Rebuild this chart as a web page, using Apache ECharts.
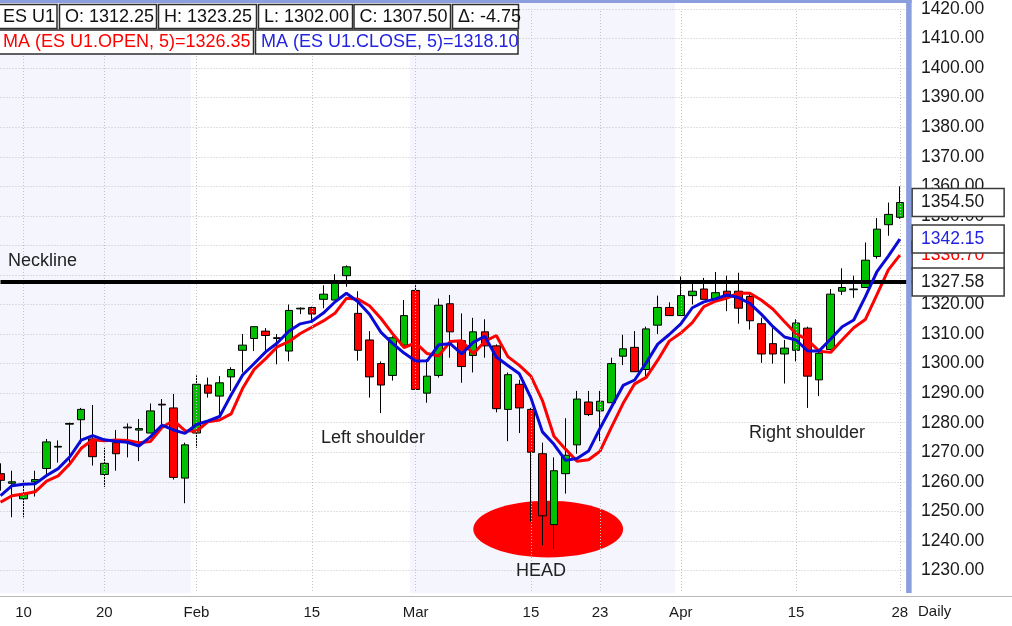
<!DOCTYPE html>
<html><head><meta charset="utf-8">
<script src="https://cdn.jsdelivr.net/npm/echarts@6/dist/echarts.min.js"></script>
<style>html,body{margin:0;padding:0;background:#fff}#c{width:1012px;height:626px}</style>
</head><body><div id="c"></div>
<script>
// ---------- data ----------
const categories = ['2011-01-06','2011-01-07','2011-01-10','2011-01-11','2011-01-12','2011-01-13','2011-01-14','2011-01-18','2011-01-19','2011-01-20',
'2011-01-21','2011-01-24','2011-01-25','2011-01-26','2011-01-27','2011-01-28','2011-01-31','2011-02-01','2011-02-02','2011-02-03',
'2011-02-04','2011-02-07','2011-02-08','2011-02-09','2011-02-10','2011-02-11','2011-02-14','2011-02-15','2011-02-16','2011-02-17',
'2011-02-18','2011-02-22','2011-02-23','2011-02-24','2011-02-25','2011-02-28','2011-03-01','2011-03-02','2011-03-03','2011-03-04',
'2011-03-07','2011-03-08','2011-03-09','2011-03-10','2011-03-11','2011-03-14','2011-03-15','2011-03-16','2011-03-17','2011-03-18',
'2011-03-21','2011-03-22','2011-03-23','2011-03-24','2011-03-25','2011-03-28','2011-03-29','2011-03-30','2011-03-31','2011-04-01',
'2011-04-04','2011-04-05','2011-04-06','2011-04-07','2011-04-08','2011-04-11','2011-04-12','2011-04-13','2011-04-14','2011-04-15',
'2011-04-18','2011-04-19','2011-04-20','2011-04-21','2011-04-22','2011-04-25','2011-04-26','2011-04-27','2011-04-28'];

const opens = [1262.75,1259.5,1254.25,1260.0,1264.5,1271.75,1279.5,1281.0,1274.5,1262.5,
1273.25,1278.5,1277.5,1276.5,1286.25,1285.0,1261.25,1276.5,1292.75,1289.0,
1295.5,1304.5,1308.5,1311.0,1308.75,1304.25,1318.5,1319.0,1321.75,1321.5,
1329.75,1317.0,1308.0,1300.0,1296.0,1306.25,1324.75,1290.0,1296.0,1320.25,
1307.75,1302.75,1310.75,1306.0,1284.5,1293.0,1284.5,1269.5,1245.5,1262.75,
1272.5,1287.0,1284.0,1286.75,1302.5,1305.5,1298.0,1313.0,1319.0,1316.25,
1323.0,1325.25,1322.0,1324.5,1324.5,1322.75,1313.5,1306.75,1303.25,1304.5,
1312.0,1294.5,1304.75,1324.5,1325.0,1325.75,1336.25,1347.0,1349.5];
const highs = [1266.25,1263.75,1260.5,1263.75,1274.5,1274.0,1280.0,1285.0,1286.0,1271.5,
1277.5,1279.75,1281.25,1286.5,1288.0,1289.75,1273.25,1296.0,1295.25,1295.75,
1298.75,1310.0,1312.5,1312.0,1310.0,1320.0,1319.0,1319.25,1326.5,1330.25,
1333.25,1324.5,1311.0,1300.75,1309.25,1321.5,1326.5,1301.5,1322.0,1323.25,
1317.0,1315.5,1315.0,1306.5,1297.0,1294.5,1285.0,1273.25,1268.25,1281.5,
1290.75,1290.75,1290.75,1302.0,1309.75,1311.0,1312.5,1323.0,1320.75,1329.5,
1327.25,1329.0,1331.0,1329.75,1330.75,1323.75,1315.5,1312.0,1308.0,1315.0,
1312.5,1304.25,1325.25,1332.25,1329.75,1341.0,1349.25,1354.5,1360.0];
const lows = [1257.0,1248.0,1248.0,1255.0,1262.5,1266.5,1265.25,1272.75,1265.5,1258.25,
1263.75,1268.25,1267.0,1276.5,1279.5,1260.75,1252.75,1271.5,1288.5,1282.25,
1290.75,1297.0,1304.25,1304.25,1299.75,1300.75,1316.75,1313.75,1318.75,1321.5,
1326.0,1301.0,1288.5,1283.25,1294.25,1306.25,1291.25,1286.75,1295.25,1302.0,
1293.5,1297.0,1302.0,1283.5,1273.75,1276.5,1246.5,1238.5,1237.25,1256.0,
1269.5,1282.25,1273.75,1286.75,1299.5,1297.25,1295.75,1310.0,1316.25,1316.25,
1320.0,1321.75,1322.0,1317.75,1313.5,1311.5,1300.25,1300.0,1293.25,1300.75,
1285.0,1289.0,1304.75,1323.25,1322.25,1325.75,1335.5,1343.25,1349.0];
const closes = [1260.5,1260.0,1256.0,1260.75,1273.5,1272.0,1279.75,1284.5,1268.5,1266.25,
1269.5,1278.25,1278.0,1284.0,1286.0,1261.5,1272.5,1293.0,1290.0,1293.5,
1298.0,1306.25,1312.5,1309.5,1308.5,1318.0,1318.75,1316.75,1323.5,1327.25,
1332.75,1304.5,1295.5,1292.75,1308.75,1316.25,1291.25,1295.75,1319.75,1310.75,
1299.0,1310.75,1306.0,1284.75,1296.25,1285.0,1270.0,1248.5,1263.75,1269.0,
1288.0,1282.75,1287.25,1300.0,1305.0,1297.25,1311.75,1319.0,1316.25,1323.0,
1324.5,1321.75,1324.0,1322.75,1318.75,1314.5,1303.25,1303.25,1305.25,1313.75,
1295.75,1303.5,1323.5,1325.75,1325.25,1335.0,1345.5,1350.5,1354.5];

// moving-average values for the first bars (their earlier inputs are off-screen)
const maOpenHead  = [1253.1, 1255.3, 1255.9, 1256.6];
const maCloseHead = [1255.3, 1258.7, 1259.2, 1259.3];

const tickIndex = [2, 9, 17, 27, 36, 46, 52, 59, 69, 78];
const tickText  = ['10', '20', 'Feb', '15', 'Mar', '15', '23', 'Apr', '15', '28'];

const necklineValue = 1327.58;
const headZone = [41, 54, 1234.4, 1253.6];   // bars from/to, value low/high of the HEAD ellipse
const headerRow1 = ['ES U1', 'O: 1312.25', 'H: 1323.25', 'L: 1302.00', 'C: 1307.50', 'Δ: -4.75'];
const headerRow2 = ['MA (ES U1.OPEN, 5)=1326.35', 'MA (ES U1.CLOSE, 5)=1318.10'];
const annotations = ['Neckline', 'Left shoulder', 'HEAD', 'Right shoulder'];

// ---------- build ----------
const FONT = '"Liberation Sans", Arial, sans-serif';
const N = categories.length;
function sma5(arr, head) {
  return arr.map((_, i) => i < head.length ? head[i]
    : +(arr.slice(i - 4, i + 1).reduce((a, b) => a + b, 0) / 5).toFixed(2));
}
const maOpen = sma5(opens, maOpenHead);
const maClose = sma5(closes, maCloseHead);
const candles = opens.map((o, i) => [o, closes[i], lows[i], highs[i]]);

const GRID_COLOR = '#c3c3c3';
const chart = echarts.init(document.getElementById('c'), null, { renderer: 'canvas' });
const option = {
  animation: false,
  backgroundColor: '#ffffff',
  grid: { left: 0.5, top: 4.4, width: 910.9, height: 595.6 },
  xAxis: {
    type: 'category', data: categories, boundaryGap: false, max: N, z: 10,
    axisLine: { show: false }, axisTick: { show: false }, splitLine: { show: false },
    axisLabel: {
      interval: (i) => tickIndex.includes(i),
      formatter: (v, i) => { const k = tickIndex.indexOf(i); return k < 0 ? '' : tickText[k]; },
      color: '#1a1a1a', fontSize: 15, fontFamily: FONT, margin: 5
    }
  },
  yAxis: {
    type: 'value', position: 'right', min: 1220, max: 1420, interval: 10,
    axisLine: { show: false }, axisTick: { show: false },
    splitLine: { show: true, lineStyle: { color: GRID_COLOR, type: [1, 2], width: 1 } },
    axisLabel: {
      formatter: (v) => (v < 1230 || v > 1420) ? '' : v.toFixed(2),
      color: '#1a1a1a', fontSize: 17.5, fontFamily: FONT, margin: 9.5
    }
  },
  series: [
    {
      type: 'line', name: 'vgrid', data: [], z: 1, silent: true,
      markLine: {
        silent: true, symbol: 'none', label: { show: false },
        lineStyle: { color: GRID_COLOR, type: [1, 2], width: 1 },
        data: tickIndex.map(i => ({ xAxis: i }))
      }
    },
    {
      type: 'candlestick', name: 'ES U1', data: candles, barWidth: 8, z: 3,
      itemStyle: { color: '#00c000', color0: '#ff0000', borderColor: '#000', borderColor0: '#000', borderWidth: 1 }
    },
    {
      type: 'line', name: 'MA open', data: maOpen, showSymbol: false, z: 4,
      lineStyle: { color: '#ff0000', width: 3 }
    },
    {
      type: 'line', name: 'MA close', data: maClose, showSymbol: false, z: 5,
      lineStyle: { color: '#0a0ad6', width: 3 }
    },
    {
      type: 'line', name: 'neckline', data: [], z: 6, silent: true,
      markLine: {
        silent: true, symbol: 'none', label: { show: false },
        lineStyle: { color: '#000', type: 'solid', width: 4 },
        data: [{ yAxis: necklineValue }]
      }
    }
  ]
};
chart.setOption(option);

// ---------- overlays positioned from data ----------
const px = (i, v) => chart.convertToPixel({ gridIndex: 0 }, [i, v]);
const xOf = (i) => px(i, 1300)[0];
const yOf = (v) => px(0, v)[1];
const step = xOf(1) - xOf(0);
const PLOT_RIGHT = xOf(N - 1) + step / 2;
const PLOT_BOTTOM = 593;

const g = [];
// month bands
const runs = [];
categories.forEach((d, i) => {
  const m = d.slice(0, 7);
  if (!runs.length || runs[runs.length - 1].m !== m) runs.push({ m, s: i, e: i });
  else runs[runs.length - 1].e = i;
});
runs.forEach((r, k) => {
  if (k % 2 !== 0) return;
  const x0 = r.s === 0 ? 0 : xOf(r.s) - step / 2;
  const x1 = r.e === N - 1 ? PLOT_RIGHT : xOf(r.e) + step / 2;
  g.push({ type: 'rect', z: -1, silent: true, shape: { x: x0, y: 0, width: x1 - x0, height: PLOT_BOTTOM }, style: { fill: '#f4f5fd' } });
});
// head ellipse
{
  const xa = xOf(headZone[0]), xb = xOf(headZone[1]);
  const ya = yOf(headZone[3]), yb = yOf(headZone[2]);
  g.push({ type: 'ellipse', z: 0.5, silent: true,
    shape: { cx: (xa + xb) / 2, cy: (ya + yb) / 2, rx: (xb - xa) / 2, ry: (yb - ya) / 2 },
    style: { fill: '#ff0000' } });
}
// bottom cover & frame
g.push({ type: 'rect', z: 8, silent: true, shape: { x: 0, y: PLOT_BOTTOM, width: 1012, height: 626 - PLOT_BOTTOM }, style: { fill: '#ffffff' } });
g.push({ type: 'rect', z: 9, silent: true, shape: { x: 0, y: 0, width: PLOT_RIGHT + 6, height: 3 }, style: { fill: '#8c9edd' } });
g.push({ type: 'rect', z: 9, silent: true, shape: { x: PLOT_RIGHT + 0.5, y: 0, width: 5.5, height: PLOT_BOTTOM }, style: { fill: '#8c9edd' } });
g.push({ type: 'rect', z: 9, silent: true, shape: { x: PLOT_RIGHT + 6, y: 0, width: 1012, height: PLOT_BOTTOM }, style: { fill: 'rgba(255,255,255,0)' } });
g.push({ type: 'line', z: 9, silent: true, shape: { x1: 0, y1: PLOT_BOTTOM + 3.5, x2: 1012, y2: PLOT_BOTTOM + 3.5 }, style: { stroke: '#b9b9b9', lineWidth: 1 } });
g.push({ type: 'text', z: 11, silent: true, x: 918, y: 612, style: { text: 'Daily', font: '15px ' + FONT, fill: '#1a1a1a', verticalAlign: 'middle' } });

// annotations
const annoStyle = (t) => ({ text: t, font: '18px ' + FONT, fill: '#222', align: 'center', verticalAlign: 'middle' });
g.push({ type: 'text', z: 9, silent: true, x: 8, y: 261, style: Object.assign(annoStyle(annotations[0]), { align: 'left' }) });
g.push({ type: 'text', z: 9, silent: true, x: 373, y: 438, style: annoStyle(annotations[1]) });
g.push({ type: 'text', z: 9, silent: true, x: 541, y: 571, style: annoStyle(annotations[2]) });
g.push({ type: 'text', z: 9, silent: true, x: 807, y: 433, style: annoStyle(annotations[3]) });

// right-side value boxes
function valueBox(v, color, z) {
  const y = yOf(v);
  g.push({ type: 'rect', z: z, silent: true, shape: { x: PLOT_RIGHT + 6.5, y: y - 14, width: 92, height: 28 },
    style: { fill: '#ffffff', stroke: '#3a3a3a', lineWidth: 1.5 } });
  g.push({ type: 'text', z: z + 0.1, silent: true, x: 921, y: y, style: { text: v.toFixed(2), font: '17.5px ' + FONT, fill: color, verticalAlign: 'middle' } });
}
valueBox(maOpen[N - 1], '#ff0000', 20);
valueBox(maClose[N - 1], '#2424e0', 21);
valueBox(closes[N - 1], '#1a1a1a', 22);
valueBox(necklineValue, '#1a1a1a', 23);

// header boxes
const row1Boxes = [[-2, 59], [59.5, 97], [158.5, 98], [258.5, 94], [354, 96.5], [452.5, 66]];
const row2Boxes = [[-2, 255.5], [255.5, 262.5]];
function headerBox(b, t, y, color) {
  g.push({ type: 'rect', z: 30, silent: true, shape: { x: b[0], y: y, width: b[1], height: 24 }, style: { fill: '#ffffff', stroke: '#2e2e2e', lineWidth: 1.5 } });
  g.push({ type: 'text', z: 31, silent: true, x: b[0] + (b[0] < 0 ? 5 : 5.5), y: y + 12.5, style: { text: t, font: '18px ' + FONT, fill: color, verticalAlign: 'middle' } });
}
headerRow1.forEach((t, k) => headerBox(row1Boxes[k], t, 4.5, '#111'));
headerBox(row2Boxes[0], headerRow2[0], 30, '#ff0000');
headerBox(row2Boxes[1], headerRow2[1], 30, '#2424e0');

chart.setOption({ graphic: g });
</script>
</body></html>
